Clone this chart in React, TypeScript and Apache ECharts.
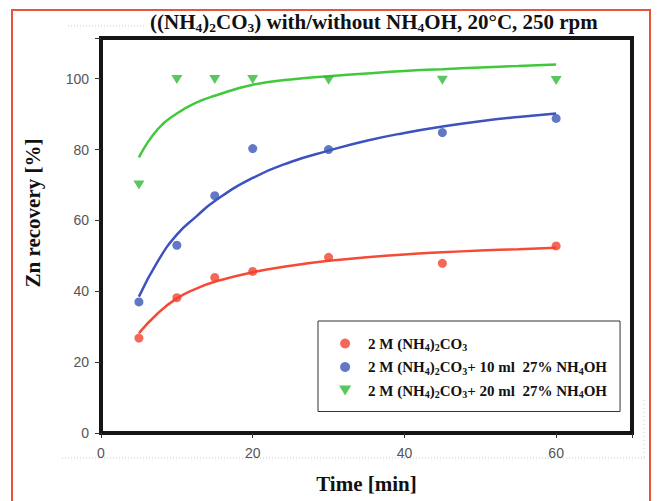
import React, { useEffect, useRef } from "react";
import * as echarts from "echarts";

// Measured points
const timePoints = [5, 10, 15, 20, 30, 45, 60];
const recoveryCarbonate = [26.8, 38.2, 43.9, 45.6, 49.6, 47.9, 52.8];
const recovery10ml = [37, 53, 67, 80.3, 80, 84.8, 88.8];
const recovery20ml = [70, 99.8, 99.8, 99.8, 99.6, 99.6, 99.5];

// Fitted curves
const fitTimes = [5, 7.5, 10, 12.5, 15, 20, 25, 30, 35, 40, 45, 50, 55, 60];
const fitCarbonate = [28.2, 33.8, 38, 40.7, 42.7, 45.4, 47.2, 48.6, 49.6, 50.4, 51, 51.5, 51.9, 52.3];
const fit10ml = [38.5, 48.5, 56, 61, 65.5, 72, 76.5, 79.7, 82.5, 84.7, 86.5, 88, 89.2, 90.2];
const fit20ml = [77.8, 85.8, 90.2, 93.2, 95.2, 98.3, 99.8, 100.7, 101.5, 102.2, 102.7, 103.2, 103.6, 104];

const seriesNames = [
  "2 M (NH4)2CO3",
  "2 M (NH4)2CO3+ 10 ml 27% NH4OH",
  "2 M (NH4)2CO3+ 20 ml 27% NH4OH",
];
const legendRichLabels = [
  "{n|2 M (NH}{s|4}{n|)}{s|2}{n|CO}{s|3}",
  "{n|2 M (NH}{s|4}{n|)}{s|2}{n|CO}{s|3}{n|+ 10 ml  27% NH}{s|4}{n|OH}",
  "{n|2 M (NH}{s|4}{n|)}{s|2}{n|CO}{s|3}{n|+ 20 ml  27% NH}{s|4}{n|OH}",
];
const titleRich =
  "{n|((NH}{s|4}{n|)}{s|2}{n|CO}{s|3}{n|) with/without NH}{s|4}{n|OH, 20°C, 250 rpm}";
const xTickLabels = [0, 20, 40, 60];
const yTickLabels = [0, 20, 40, 60, 80, 100];

const colors = ["#f2412f", "#3b56b8", "#2eb935"];
const lineColors = ["#f54a33", "#3d52bd", "#3fc93b"];

const SERIF = "'Liberation Serif', 'Times New Roman', serif";
const SANS = "'Liberation Sans', Arial, sans-serif";

export default function App() {
  const ref = useRef<HTMLDivElement>(null);

  useEffect(() => {
    if (!ref.current) return;
    const chart = echarts.init(ref.current, undefined, { renderer: "svg" });

    const toPairs = (xs: number[], ys: number[]) => xs.map((x, i) => [x, ys[i]]);
    const pointSets = [recoveryCarbonate, recovery10ml, recovery20ml];
    const fitSets = [fitCarbonate, fit10ml, fit20ml];

    const series: any[] = [];
    fitSets.forEach((f, i) => {
      series.push({
        type: "line",
        name: "fit" + i,
        data: toPairs(fitTimes, f),
        smooth: true,
        showSymbol: false,
        lineStyle: { color: lineColors[i], width: 2.5 },
        z: 2,
      });
    });
    pointSets.forEach((p, i) => {
      series.push({
        type: "scatter",
        name: seriesNames[i],
        data: toPairs(timePoints, p),
        symbol: i === 2 ? "triangle" : "circle",
        symbolRotate: i === 2 ? 180 : 0,
        symbolSize: i === 2 ? [11, 9] : 9,
        itemStyle: { color: colors[i] },
        z: 3,
      });
    });

    const sub = { fontFamily: SERIF, fontWeight: "bold", color: "#111" };

    chart.setOption({
      animation: false,
      backgroundColor: "#ffffff",
      title: {
        text: titleRich,
        left: 150,
        top: 10,
        padding: 0,
        textStyle: {
          rich: {
            n: { ...sub, fontSize: 21, lineHeight: 24 },
            s: { ...sub, fontSize: 13.5, lineHeight: 11, verticalAlign: "bottom" },
          },
        },
      },
      grid: {
        left: 101,
        right: 25,
        top: 38,
        bottom: 68,
        show: true,
        borderColor: "#151515",
        borderWidth: 4,
        backgroundColor: "transparent",
      },
      legend: {
        orient: "vertical",
        left: 318,
        top: 321,
        padding: [15, 13, 12, 21],
        itemGap: 7,
        itemWidth: 36,
        itemHeight: 10,
        borderColor: "#333",
        borderWidth: 1,
        backgroundColor: "#fff",
        data: [
          { name: seriesNames[0], icon: "circle" },
          { name: seriesNames[1], icon: "circle" },
          { name: seriesNames[2], icon: "path://M0,0 L11,0 L5.5,9 Z" },
        ],
        formatter: (name: string) => legendRichLabels[seriesNames.indexOf(name)],
        textStyle: {
          rich: {
            n: { ...sub, fontSize: 15, lineHeight: 18 },
            s: { ...sub, fontSize: 10, lineHeight: 9, verticalAlign: "bottom" },
          },
        },
      },
      xAxis: {
        type: "value",
        min: 0,
        max: 70,
        interval: 20,
        name: "Time [min]",
        nameLocation: "middle",
        nameGap: 40,
        nameTextStyle: { fontFamily: SERIF, fontWeight: "bold", fontSize: 21, color: "#111" },
        axisLine: { show: true, lineStyle: { color: "#151515", width: 4 } },
        axisTick: { show: true, inside: false, length: 5, lineStyle: { color: "#333", width: 1 } },
        axisLabel: {
          margin: 13,
          fontFamily: SANS,
          fontSize: 14,
          color: "#555",
          formatter: (v: number) => (xTickLabels.includes(v) ? String(v) : ""),
        },
        splitLine: { show: false },
      },
      yAxis: {
        type: "value",
        min: 0,
        max: 111.5,
        interval: 20,
        axisLine: { show: true, lineStyle: { color: "#151515", width: 4 } },
        axisTick: { show: true, inside: false, length: 6, lineStyle: { color: "#333", width: 1 } },
        axisLabel: {
          margin: 12,
          fontFamily: SANS,
          fontSize: 14,
          color: "#555",
          formatter: (v: number) => (yTickLabels.includes(v) ? String(v) : ""),
        },
        splitLine: { show: false },
      },
      graphic: [
        {
          type: "rect",
          shape: { x: 12, y: 10, width: 638, height: 520 },
          style: { fill: "none", stroke: "#e8533f", lineWidth: 2 },
          silent: true,
        },
        {
          type: "line",
          shape: { x1: 62, y1: 458, x2: 645, y2: 458 },
          style: { stroke: "#c8c8c8", lineWidth: 1, lineDash: [1, 2] },
          silent: true,
        },
        {
          type: "line",
          shape: { x1: 68, y1: 26, x2: 146, y2: 26 },
          style: { stroke: "#c8c8c8", lineWidth: 1, lineDash: [1, 2] },
          silent: true,
        },
        {
          type: "line",
          shape: { x1: 644, y1: 400, x2: 644, y2: 458 },
          style: { stroke: "#cccccc", lineWidth: 1, lineDash: [1, 3] },
          silent: true,
        },
        {
          type: "text",
          x: 33,
          y: 213,
          rotation: Math.PI / 2,
          style: {
            text: "Zn recovery [%]",
            fontFamily: SERIF,
            fontWeight: "bold",
            fontSize: 21,
            fill: "#111",
            align: "center",
            verticalAlign: "middle",
          },
          silent: true,
        },
      ],
      series,
    });

    return () => chart.dispose();
  }, []);

  return (
    <div
      ref={ref}
      style={{ position: "fixed", left: 0, top: 0, width: 657, height: 501 }}
    />
  );
}
